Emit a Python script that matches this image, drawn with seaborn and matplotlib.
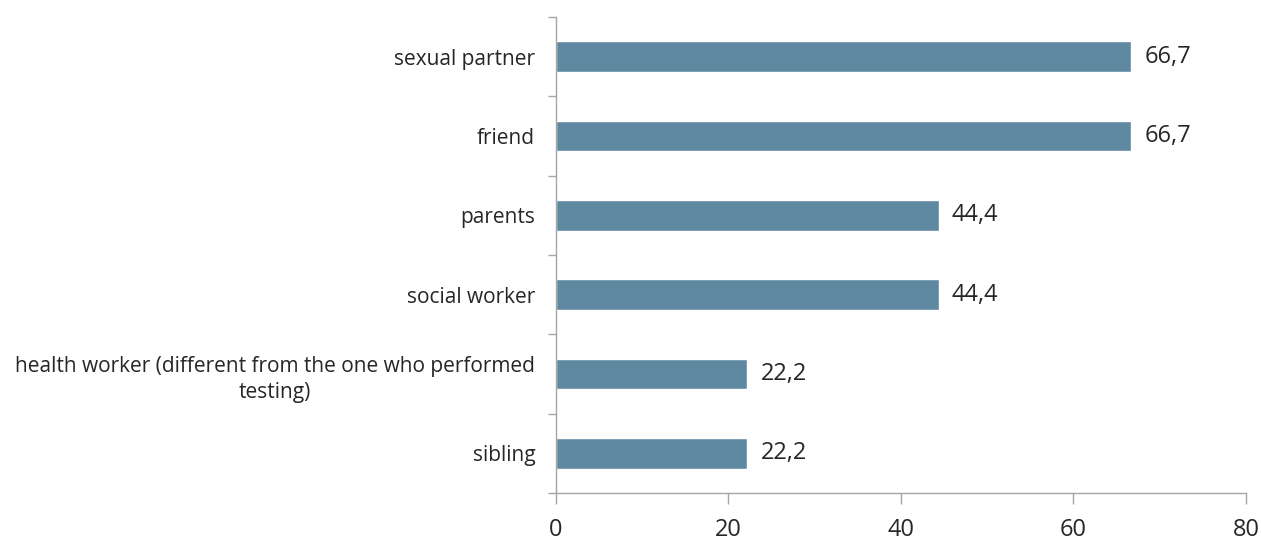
import matplotlib
matplotlib.use("Agg")
import matplotlib.pyplot as plt
import numpy as np
import pandas as pd
import seaborn as sns

# values
categories = ["sexual partner", "friend", "parents", "social worker",
              "health worker (different from the one who performed\ntesting)",
              "sibling"]
percent = [66.7, 66.7, 44.4, 44.4, 22.2, 22.2]
x_ticks = [0, 20, 40, 60, 80]

df = pd.DataFrame({"who": categories, "pct": percent})

sns.set_theme(style="white")
plt.rcParams["font.family"] = ["Open Sans", "DejaVu Sans"]

bar_color = "#5F88A1"
axis_color = "#A6A6A6"
text_color = "#262626"

fig = plt.figure(figsize=(12.61, 5.40), dpi=100)
ax = fig.add_axes([0.4409, 0.087, 0.9881 - 0.4409, 0.9685 - 0.087])

sns.barplot(data=df, x="pct", y="who", orient="h", color=bar_color,
            width=0.39, saturation=1, ax=ax)

# value labels to the right of each bar
for p, v in zip(ax.patches, percent):
    ax.annotate(f"{v:.1f}".replace(".", ","),
                (p.get_width(), p.get_y() + p.get_height() / 2),
                xytext=(13, 0), textcoords="offset pixels",
                va="center", ha="left", fontsize=17, color=text_color)

ax.set_xlim(0, 80)
ax.set_xticks(x_ticks)
ax.set_ylim(len(categories) - 0.5, -0.5)
ax.set_xlabel("")
ax.set_ylabel("")

for side in ["top", "right"]:
    ax.spines[side].set_visible(False)
for side in ["left", "bottom"]:
    ax.spines[side].set_color(axis_color)
    ax.spines[side].set_linewidth(1)

ax.tick_params(axis="x", direction="out", length=8, width=1, color=axis_color,
               labelsize=17, labelcolor=text_color, pad=10, bottom=True)
ax.tick_params(axis="y", which="major", length=0, labelsize=15,
               labelcolor=text_color, pad=15)
ax.set_yticks(np.arange(-0.5, len(categories), 1), minor=True)
ax.tick_params(axis="y", which="minor", direction="out", length=6, width=1,
               color=axis_color, left=True)

for lab in ax.get_yticklabels():
    lab.set_multialignment("center")
    lab.set_linespacing(1.35)

fig.savefig("out.png", dpi=100)
